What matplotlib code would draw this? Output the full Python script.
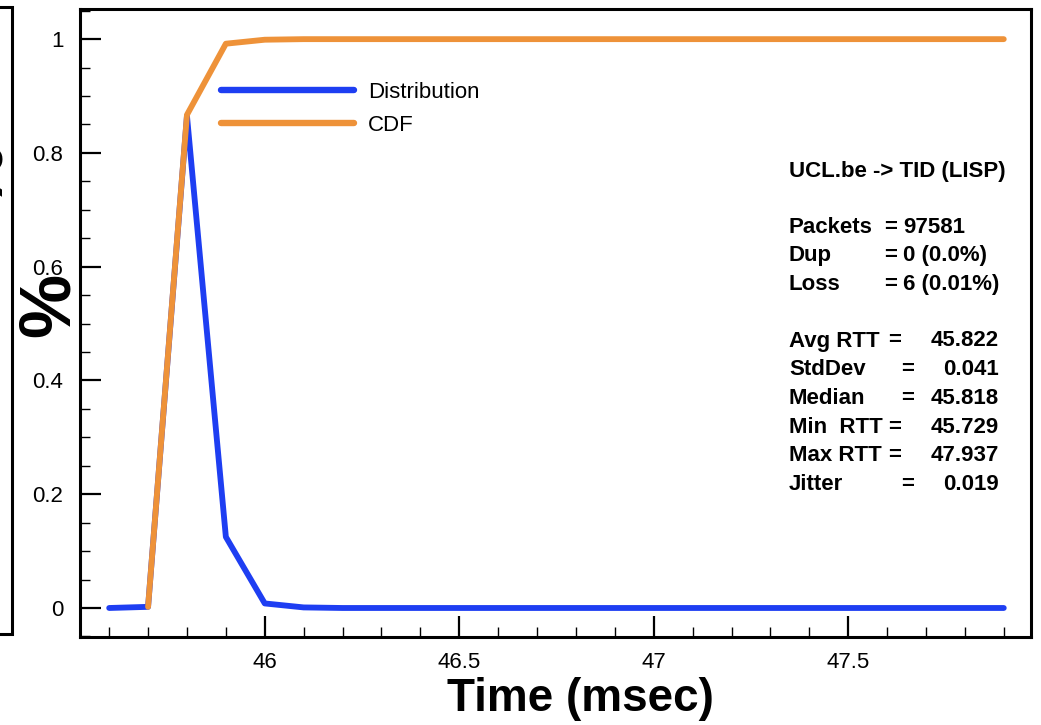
import matplotlib
matplotlib.use('Agg')
import matplotlib.pyplot as plt
from matplotlib.ticker import MultipleLocator
from matplotlib.patches import Rectangle

# 数据
time_ms = [45.6, 45.7, 45.8, 45.9, 46.0, 46.1, 46.2, 46.3, 46.4, 46.5, 46.6, 46.7,
           46.8, 46.9, 47.0, 47.1, 47.2, 47.3, 47.4, 47.5, 47.6, 47.7, 47.8, 47.9]
distribution = [0.0, 0.002, 0.865, 0.125, 0.008, 0.001] + [0.0] * 18
cdf_time = time_ms[1:]
cdf = [0.002, 0.867, 0.992, 0.999, 1.0] + [1.0] * 18

title_line = 'UCL.be -> TID (LISP)'
upper_labels = ['Packets', 'Dup', 'Loss']
upper_values = ['97581', '0 (0.0%)', '6 (0.01%)']
lower_labels = ['Avg RTT', 'StdDev', 'Median', 'Min  RTT', 'Max RTT', 'Jitter']
lower_values = ['45.822', '0.041', '45.818', '45.729', '47.937', '0.019']

plt.rcParams['font.family'] = ['Liberation Sans', 'DejaVu Sans']

W, H = 1041, 725
fig = plt.figure(figsize=(W / 100, H / 100), dpi=100)


def fx(px):
    return px / W


def fy(py):
    return 1 - py / H


ax = fig.add_axes([fx(80), fy(637), fx(1031) - fx(80), fy(9) - fy(637)])

blue = '#1e3ef2'
orange = '#ee9239'
ax.plot(time_ms, distribution, color=blue, lw=4.2, label='Distribution',
        solid_capstyle='round', solid_joinstyle='round', zorder=3)
ax.plot(cdf_time, cdf, color=orange, lw=4.2, label='CDF',
        solid_capstyle='round', solid_joinstyle='round', zorder=4)

ax.set_xlim(45.525, 47.97)
ax.set_ylim(-0.051, 1.053)
ax.xaxis.set_minor_locator(MultipleLocator(0.1))
ax.yaxis.set_minor_locator(MultipleLocator(0.05))
ax.set_xticks([46, 46.5, 47, 47.5])
ax.set_xticklabels(['46', '46.5', '47', '47.5'])
ax.set_yticks([0, 0.2, 0.4, 0.6, 0.8, 1.0])
ax.set_yticklabels(['0', '0.2', '0.4', '0.6', '0.8', '1'])
ax.tick_params(which='major', direction='in', length=15, width=1.6,
               labelsize=16, top=False, right=False)
ax.tick_params(which='minor', direction='in', length=7, width=1.0,
               top=False, right=False)
ax.tick_params(axis='x', pad=11)
ax.tick_params(axis='y', pad=12)
for s in ax.spines.values():
    s.set_linewidth(2.2)

leg = ax.legend(loc='upper left', bbox_to_anchor=(fx(221), fy(82)),
                bbox_transform=fig.transFigure, frameon=False, fontsize=16,
                handlelength=6.0, handletextpad=0.6, borderpad=0,
                borderaxespad=0, labelspacing=0.55)
for line in leg.get_lines():
    line.set_linewidth(4.6)
    line.set_solid_capstyle('round')

# 统计信息
fs = 16
fig.text(fx(789), fy(171), title_line, fontsize=fs, fontweight='bold',
         va='center', ha='left')
y0 = 227
for i, (lab, val) in enumerate(zip(upper_labels, upper_values)):
    yy = fy(y0 + i * 28.5)
    fig.text(fx(789), yy, lab, fontsize=fs, fontweight='bold', va='center')
    fig.text(fx(891), yy, '=', fontsize=fs, fontweight='bold', va='center', ha='center')
    fig.text(fx(903), yy, val, fontsize=fs, fontweight='bold', va='center')
y1 = 341
eq_x = [895, 908, 908, 895, 895, 908]
for i, (lab, val) in enumerate(zip(lower_labels, lower_values)):
    yy = fy(y1 + i * 28.7)
    fig.text(fx(789), yy, lab, fontsize=fs, fontweight='bold', va='center')
    fig.text(fx(eq_x[i]), yy, '=', fontsize=fs, fontweight='bold', va='center', ha='center')
    fig.text(fx(999), yy, val, fontsize=fs, fontweight='bold', va='center', ha='right')

fig.text(fx(580), fy(699), 'Time (msec)', fontsize=33, fontweight='bold',
         ha='center', va='center')
fig.text(fx(50), fy(305), '%', fontsize=52, fontweight='bold', rotation=90,
         ha='center', va='center')

# 左侧相邻面板的残留边框
fig.patches.append(Rectangle((fx(-200), fy(634)), fx(212), fy(7) - fy(634),
                             transform=fig.transFigure, fill=False,
                             lw=2.2, ec='black'))
fig.text(fx(-18), fy(175), '%', fontsize=52, fontweight='bold', rotation=90,
         ha='center', va='center')

fig.savefig('out.png', dpi=100)
